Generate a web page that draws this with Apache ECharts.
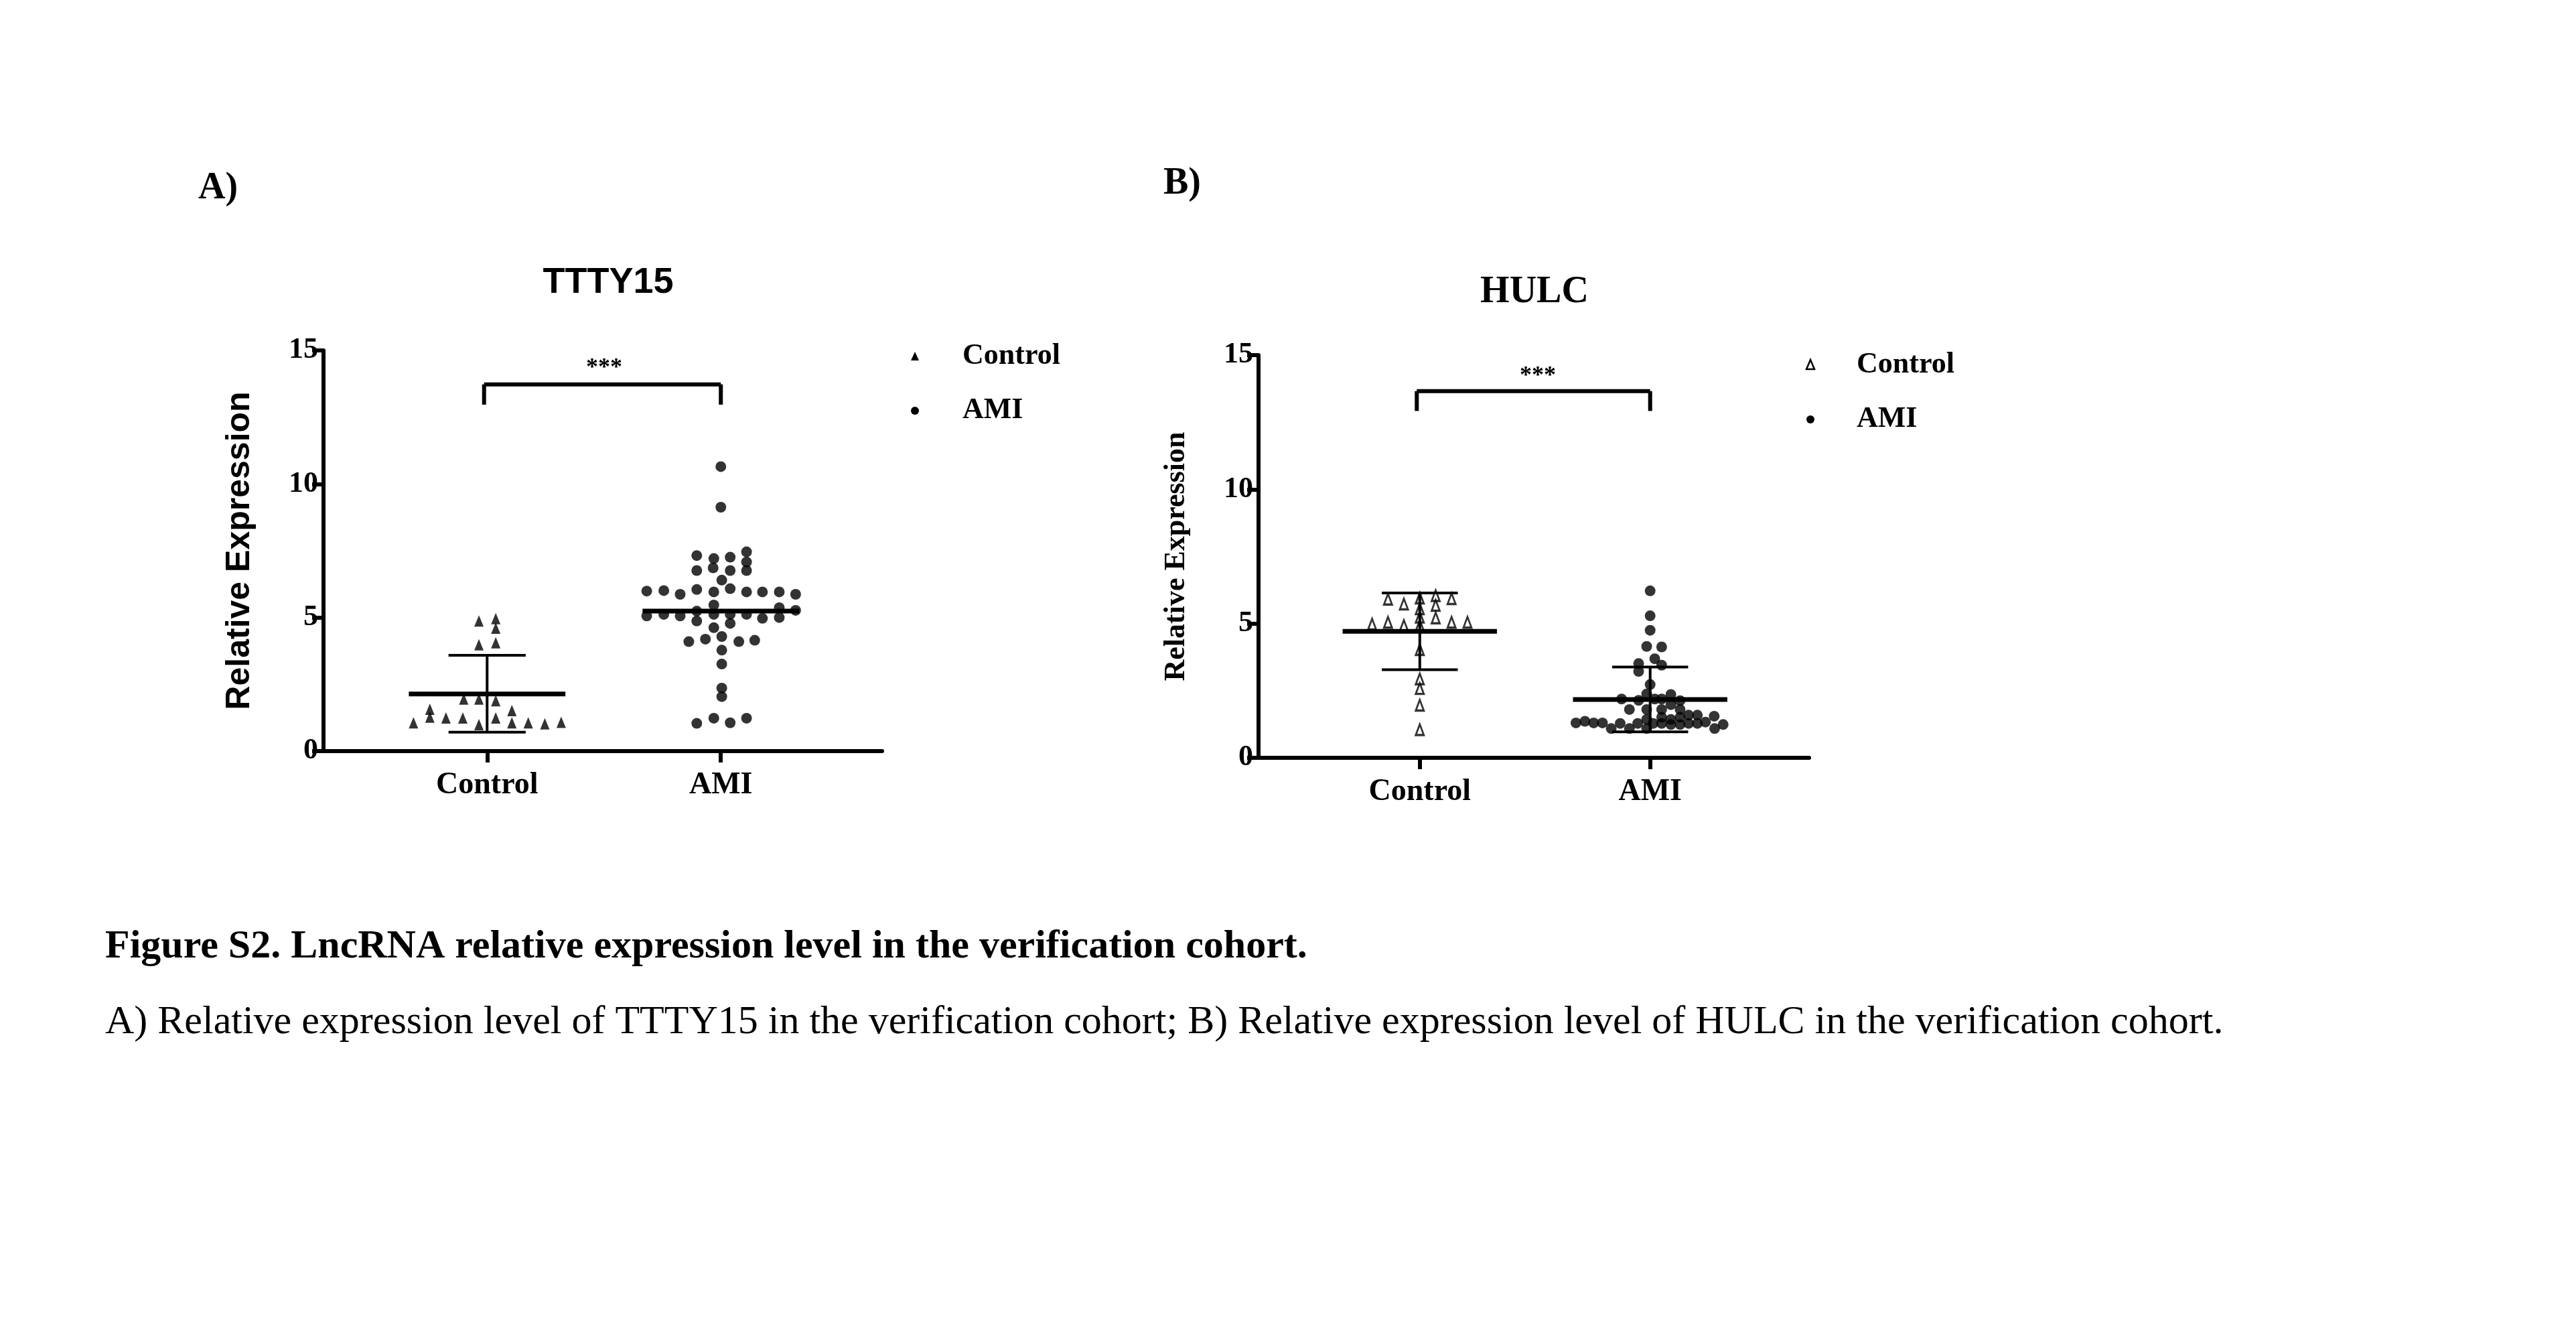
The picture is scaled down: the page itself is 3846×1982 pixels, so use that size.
<!DOCTYPE html>
<html lang="en">
  <head>
    <meta charset="UTF-8" />
    <title>Figure S2</title>
    <script src="https://cdn.jsdelivr.net/npm/echarts@6/dist/echarts.min.js"></script>
    <style>
      html, body { margin: 0; background: #fff; }
      #main { width: 3846px; height: 1982px; }
    </style>
  </head>
  <body>
    <div id="main"></div>
    <script>
      // categories sit at x = 1 and x = 2; first value is the horizontal jitter
      var groups = ["Control", "AMI"];
      var yTicks = [0, 5, 10, 15];

      var ttty15Control = [
        [-0.035, 4.87], [0.037, 4.96], [0.037, 4.6], [-0.035, 3.98], [0.037, 4.06],
        [-0.1, 1.95], [-0.035, 1.95], [0.037, 1.89], [-0.245, 1.57], [0.106, 1.52],
        [-0.245, 1.27], [-0.176, 1.24], [-0.104, 1.24], [0.037, 1.24], [-0.315, 1.06],
        [-0.035, 0.99], [0.106, 1.06], [0.176, 1.06], [0.247, 1.02], [0.317, 1.08]
      ];
      var ttty15Ami = [
        [0, 10.65], [0, 9.13], [-0.103, 7.32], [-0.03, 7.21], [0.04, 7.26], [0.11, 7.46],
        [0.11, 7.08], [-0.103, 6.76], [-0.033, 6.86], [0.04, 6.76], [0.11, 6.76], [0.004, 6.4],
        [-0.317, 5.99], [-0.244, 6.01], [-0.174, 5.87], [-0.103, 6.05], [-0.03, 5.96], [0.04, 6.08],
        [0.11, 5.96], [0.178, 5.96], [0.25, 5.96], [0.32, 5.87], [-0.03, 5.47], [-0.317, 5.06],
        [-0.244, 5.12], [-0.174, 5.06], [-0.103, 5.24], [-0.03, 5.12], [0.04, 5.12], [0.11, 5.12],
        [0.178, 4.97], [0.25, 5.0], [0.32, 5.27], [0.25, 5.37], [-0.103, 4.87], [-0.03, 4.62],
        [0.04, 4.78], [-0.137, 4.1], [-0.066, 4.19], [0.004, 4.29], [0.077, 4.1], [0.145, 4.15],
        [0.004, 3.78], [0.004, 3.26], [0.004, 2.36], [0.004, 2.04], [-0.103, 1.04], [-0.03, 1.23],
        [0.04, 1.06], [0.11, 1.23]
      ];
      var hulcControl = [
        [-0.138, 5.91], [-0.069, 5.73], [0, 5.95], [0.069, 6.04], [0.138, 5.93], [0, 5.55],
        [0.069, 5.68], [0, 5.24], [0.069, 5.21], [-0.207, 4.98], [-0.138, 5.05], [-0.069, 4.93],
        [0, 4.93], [0.138, 5.05], [0.207, 5.05], [0, 4.03], [0, 2.94], [0, 2.58], [0, 1.96], [0, 1.05]
      ];
      var hulcAmi = [
        [0, 6.22], [0, 5.29], [0, 4.75], [-0.015, 4.15], [0.05, 4.13], [0.02, 3.69], [-0.05, 3.51],
        [0.05, 3.45], [-0.05, 3.22], [0, 2.73], [-0.015, 2.38], [0.09, 2.36], [-0.124, 2.19],
        [-0.05, 2.14], [0.02, 2.19], [0.05, 2.19], [0.13, 2.13], [-0.09, 1.8], [-0.015, 1.8],
        [0.05, 1.8], [0.09, 1.98], [0.13, 1.8], [-0.015, 1.43], [0.05, 1.51], [0.09, 1.43],
        [0.13, 1.51], [0.167, 1.59], [0.205, 1.59], [0.278, 1.55], [-0.322, 1.3], [-0.283, 1.36],
        [-0.245, 1.3], [-0.207, 1.3], [-0.13, 1.28], [-0.054, 1.28], [0.013, 1.28], [0.09, 1.24],
        [0.167, 1.28], [0.24, 1.33], [0.317, 1.24], [-0.169, 1.09], [-0.09, 1.09], [-0.015, 1.09],
        [0.28, 1.09], [0.05, 1.28], [0.13, 1.24], [0.205, 1.28]
      ];

      // mean, upper and lower error bar (null = not drawn)
      var ttty15Mean = [2.14, 5.24];
      var ttty15Upper = [3.59, null];
      var ttty15Lower = [0.71, null];
      var hulcMean = [4.71, 2.17];
      var hulcUpper = [6.14, 3.38];
      var hulcLower = [3.28, 0.97];
      var bracketA = [13.73, 12.97];
      var bracketB = [13.66, 12.92];

      function pts(arr, cat) {
        return arr.map(function (p) { return [cat + p[0], p[1]]; });
      }

      function seg(gi, coords, width) {
        return {
          type: "line", xAxisIndex: gi, yAxisIndex: gi, data: coords,
          symbol: "none", silent: true, z: 3,
          lineStyle: { color: "#000", width: width }
        };
      }

      function summary(gi, mean, upper, lower) {
        var out = [];
        for (var i = 0; i < 2; i++) {
          var c = i + 1;
          out.push(seg(gi, [[c - 0.335, mean[i]], [c + 0.335, mean[i]]], 7));
          if (upper[i] != null) {
            out.push(seg(gi, [[c, lower[i]], [c, upper[i]]], 4));
            out.push(seg(gi, [[c - 0.165, upper[i]], [c + 0.165, upper[i]]], 4));
            out.push(seg(gi, [[c - 0.165, lower[i]], [c + 0.165, lower[i]]], 4));
          }
        }
        return out;
      }

      function axes(gi, labelFont) {
        var x = {
          type: "value", gridIndex: gi, min: 0.3, max: 2.69,
          splitLine: { show: false },
          axisLine: { lineStyle: { color: "#000", width: 6 } },
          axisTick: { customValues: [1, 2], length: 17, lineStyle: { color: "#000", width: 6 } },
          axisLabel: {
            customValues: [1, 2], margin: 28,
            formatter: function (v) { return groups[Math.round(v) - 1]; },
            color: "#000", fontFamily: "Liberation Serif", fontWeight: "bold", fontSize: 46
          }
        };
        var y = {
          type: "value", gridIndex: gi, min: 0, max: 15, interval: 5,
          name: "Relative Expression", nameLocation: "middle", nameGap: 100,
          nameTextStyle: { color: "#000", fontFamily: labelFont.family, fontWeight: "bold", fontSize: labelFont.size },
          splitLine: { show: false },
          axisLine: { show: true, lineStyle: { color: "#000", width: 6 } },
          axisTick: { show: true, length: 17, lineStyle: { color: "#000", width: 6 } },
          axisLabel: { color: "#000", fontFamily: "Liberation Serif", fontWeight: "bold", fontSize: 44, margin: 8 }
        };
        return [x, y];
      }

      function bracket(gi, b) {
        return [
          seg(gi, [[0.987, b[1]], [0.987, b[0]]], 6),
          seg(gi, [[0.987, b[0]], [2.0, b[0]]], 6),
          seg(gi, [[2.0, b[0]], [2.0, b[1]]], 6)
        ];
      }

      var axA = axes(0, { family: "Liberation Sans", size: 50 });
      var axB = axes(1, { family: "Liberation Serif", size: 44 });

      var series = [
        { type: "scatter", xAxisIndex: 0, yAxisIndex: 0, symbol: "triangle", symbolSize: [14, 17],
          itemStyle: { color: "#000" }, data: pts(ttty15Control, 1) },
        { type: "scatter", xAxisIndex: 0, yAxisIndex: 0, symbol: "circle", symbolSize: 16,
          itemStyle: { color: "#000" }, data: pts(ttty15Ami, 2) },
        { type: "scatter", xAxisIndex: 1, yAxisIndex: 1, symbol: "triangle", symbolSize: [12, 16],
          itemStyle: { color: "#fff", borderColor: "#000", borderWidth: 3 }, data: pts(hulcControl, 1) },
        { type: "scatter", xAxisIndex: 1, yAxisIndex: 1, symbol: "circle", symbolSize: 16,
          itemStyle: { color: "#000" }, data: pts(hulcAmi, 2) }
      ]
        .concat(summary(0, ttty15Mean, ttty15Upper, ttty15Lower))
        .concat(summary(1, hulcMean, hulcUpper, hulcLower))
        .concat(bracket(0, bracketA))
        .concat(bracket(1, bracketB));

      function txt(x, y, s, font, align) {
        return { type: "text", x: x, y: y, style: { text: s, font: font, fill: "#000", align: align || "left", verticalAlign: "middle" } };
      }

      var option = {
        animation: false,
        backgroundColor: "#fff",
        grid: [
          { left: 483, width: 834, top: 523, height: 598 },
          { left: 1879, width: 822, top: 530, height: 601 }
        ],
        xAxis: [axA[0], axB[0]],
        yAxis: [axA[1], axB[1]],
        series: series,
        graphic: [
          txt(296, 282, "A)", "bold 56px 'Liberation Serif'"),
          txt(1737, 275, "B)", "bold 56px 'Liberation Serif'"),
          txt(908, 422, "TTTY15", "bold 54px 'Liberation Sans'", "center"),
          txt(2291, 437, "HULC", "bold 56px 'Liberation Serif'", "center"),
          txt(902, 550, "***", "bold 36px 'Liberation Serif'", "center"),
          txt(2296, 562, "***", "bold 36px 'Liberation Serif'", "center"),
          { type: "polygon", shape: { points: [[1366, 525], [1372, 538], [1360, 538]] }, style: { fill: "#000" } },
          { type: "circle", shape: { cx: 1366, cy: 613, r: 6 }, style: { fill: "#000" } },
          txt(1437, 532, "Control", "bold 44px 'Liberation Serif'"),
          txt(1437, 613, "AMI", "bold 44px 'Liberation Serif'"),
          { type: "polygon", shape: { points: [[2703, 537], [2709, 551], [2697, 551]] }, style: { fill: "#fff", stroke: "#000", lineWidth: 2.5 } },
          { type: "circle", shape: { cx: 2703, cy: 626, r: 6 }, style: { fill: "#000" } },
          txt(2772, 545, "Control", "bold 44px 'Liberation Serif'"),
          txt(2772, 626, "AMI", "bold 44px 'Liberation Serif'"),
          txt(157, 1413, "Figure S2. LncRNA relative expression level in the verification cohort.", "bold 60px 'Liberation Serif'"),
          txt(157, 1526, "A) Relative expression level of TTTY15 in the verification cohort; B) Relative expression level of HULC in the verification cohort.", "60px 'Liberation Serif'")
        ]
      };

      var myChart = echarts.init(document.getElementById("main"));
      myChart.setOption(option);
    </script>
  </body>
</html>
